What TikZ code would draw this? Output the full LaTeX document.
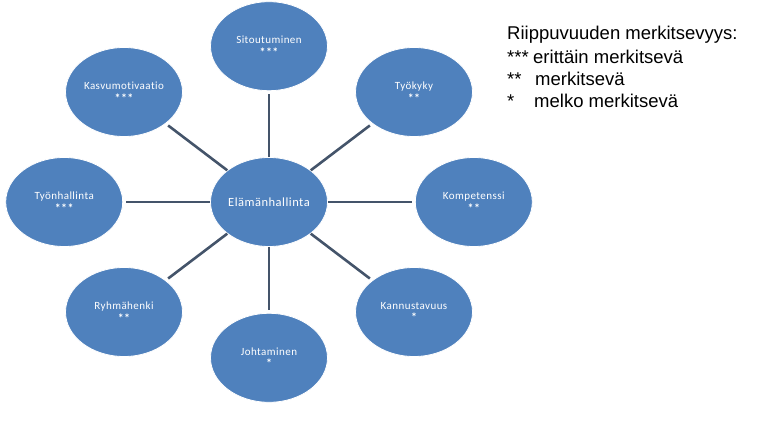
\documentclass[tikz,border=0pt]{standalone}
\usepackage{fontspec}
\setmainfont{Carlito}
\newfontfamily\bubblefont{Carlito}[LetterSpace=4.0,Ligatures=NoCommon]
\newfontfamily\legendfont{Liberation Sans}
\usetikzlibrary{positioning,calc,shapes.geometric}
\definecolor{bubblefill}{HTML}{4F81BD}
\definecolor{spoke}{HTML}{44546A}
\newcommand\signif[1]{{\bfseries\fontsize{12}{12.5}\selectfont #1}}

\begin{document}
\begin{tikzpicture}[
 x=1pt,y=1pt,
 node distance=66pt and 87pt,
 bubble/.style={ellipse,draw=white,line width=0.8pt,fill=bubblefill,minimum width=117pt,minimum height=89pt,inner sep=0pt,align=center,text=white,font=\bubblefont\fontsize{11}{12.5}\selectfont},
 hubble/.style={bubble,font=\bubblefont\fontsize{12.5}{15}\selectfont},
 link/.style={draw=spoke,line width=2.6pt,shorten >=3pt},
 legend/.style={anchor=base west,inner sep=0pt,font=\legendfont\fontsize{18.5}{22}\selectfont}
]
\useasboundingbox (0,0) rectangle (774,434);
\node[hubble] (hub) at (269,232) {Elämänhallinta};
\node[bubble,above=of hub] (sitou) {Sitoutuminen\\\signif{***}};
\node[bubble,below=of hub] (johta) {Johtaminen\\\signif{*}};
\node[bubble,left=of hub] (tyonh) {Työnhallinta\\\signif{***}};
\node[bubble,right=of hub] (kompet) {Kompetenssi\\\signif{**}};
\node[bubble] (kasvu) at ($(hub)+(-145,110)$) {Kasvumotivaatio\\\signif{***}};
\node[bubble] (tyokyky) at ($(hub)+(145,110)$) {Työkyky\\\signif{**}};
\node[bubble] (ryhma) at ($(hub)+(-145,-110)$) {Ryhmähenki\\\signif{**}};
\node[bubble] (kannust) at ($(hub)+(145,-110)$) {Kannustavuus\\\signif{*}};
\draw[link] (hub)--(sitou);
\draw[link] (hub)--(tyokyky);
\draw[link] (hub)--(kompet);
\draw[link] (hub)--(kannust);
\draw[link] (hub)--(johta);
\draw[link] (hub)--(ryhma);
\draw[link] (hub)--(tyonh);
\draw[link] (hub)--(kasvu);
% legend
\node[legend] (leghead) at (507,394) {Riippuvuuden merkitsevyys:};
\node[legend] (star3) at (507,370) {***};
\node[legend] (text3) at (533,370) {erittäin merkitsevä};
\node[legend] (star2) at (507,348) {**};
\node[legend] (text2) at (535,348) {merkitsevä};
\node[legend] (star1) at (507,326) {*};
\node[legend] (text1) at (534,326) {melko merkitsevä};
\end{tikzpicture}
\end{document}
